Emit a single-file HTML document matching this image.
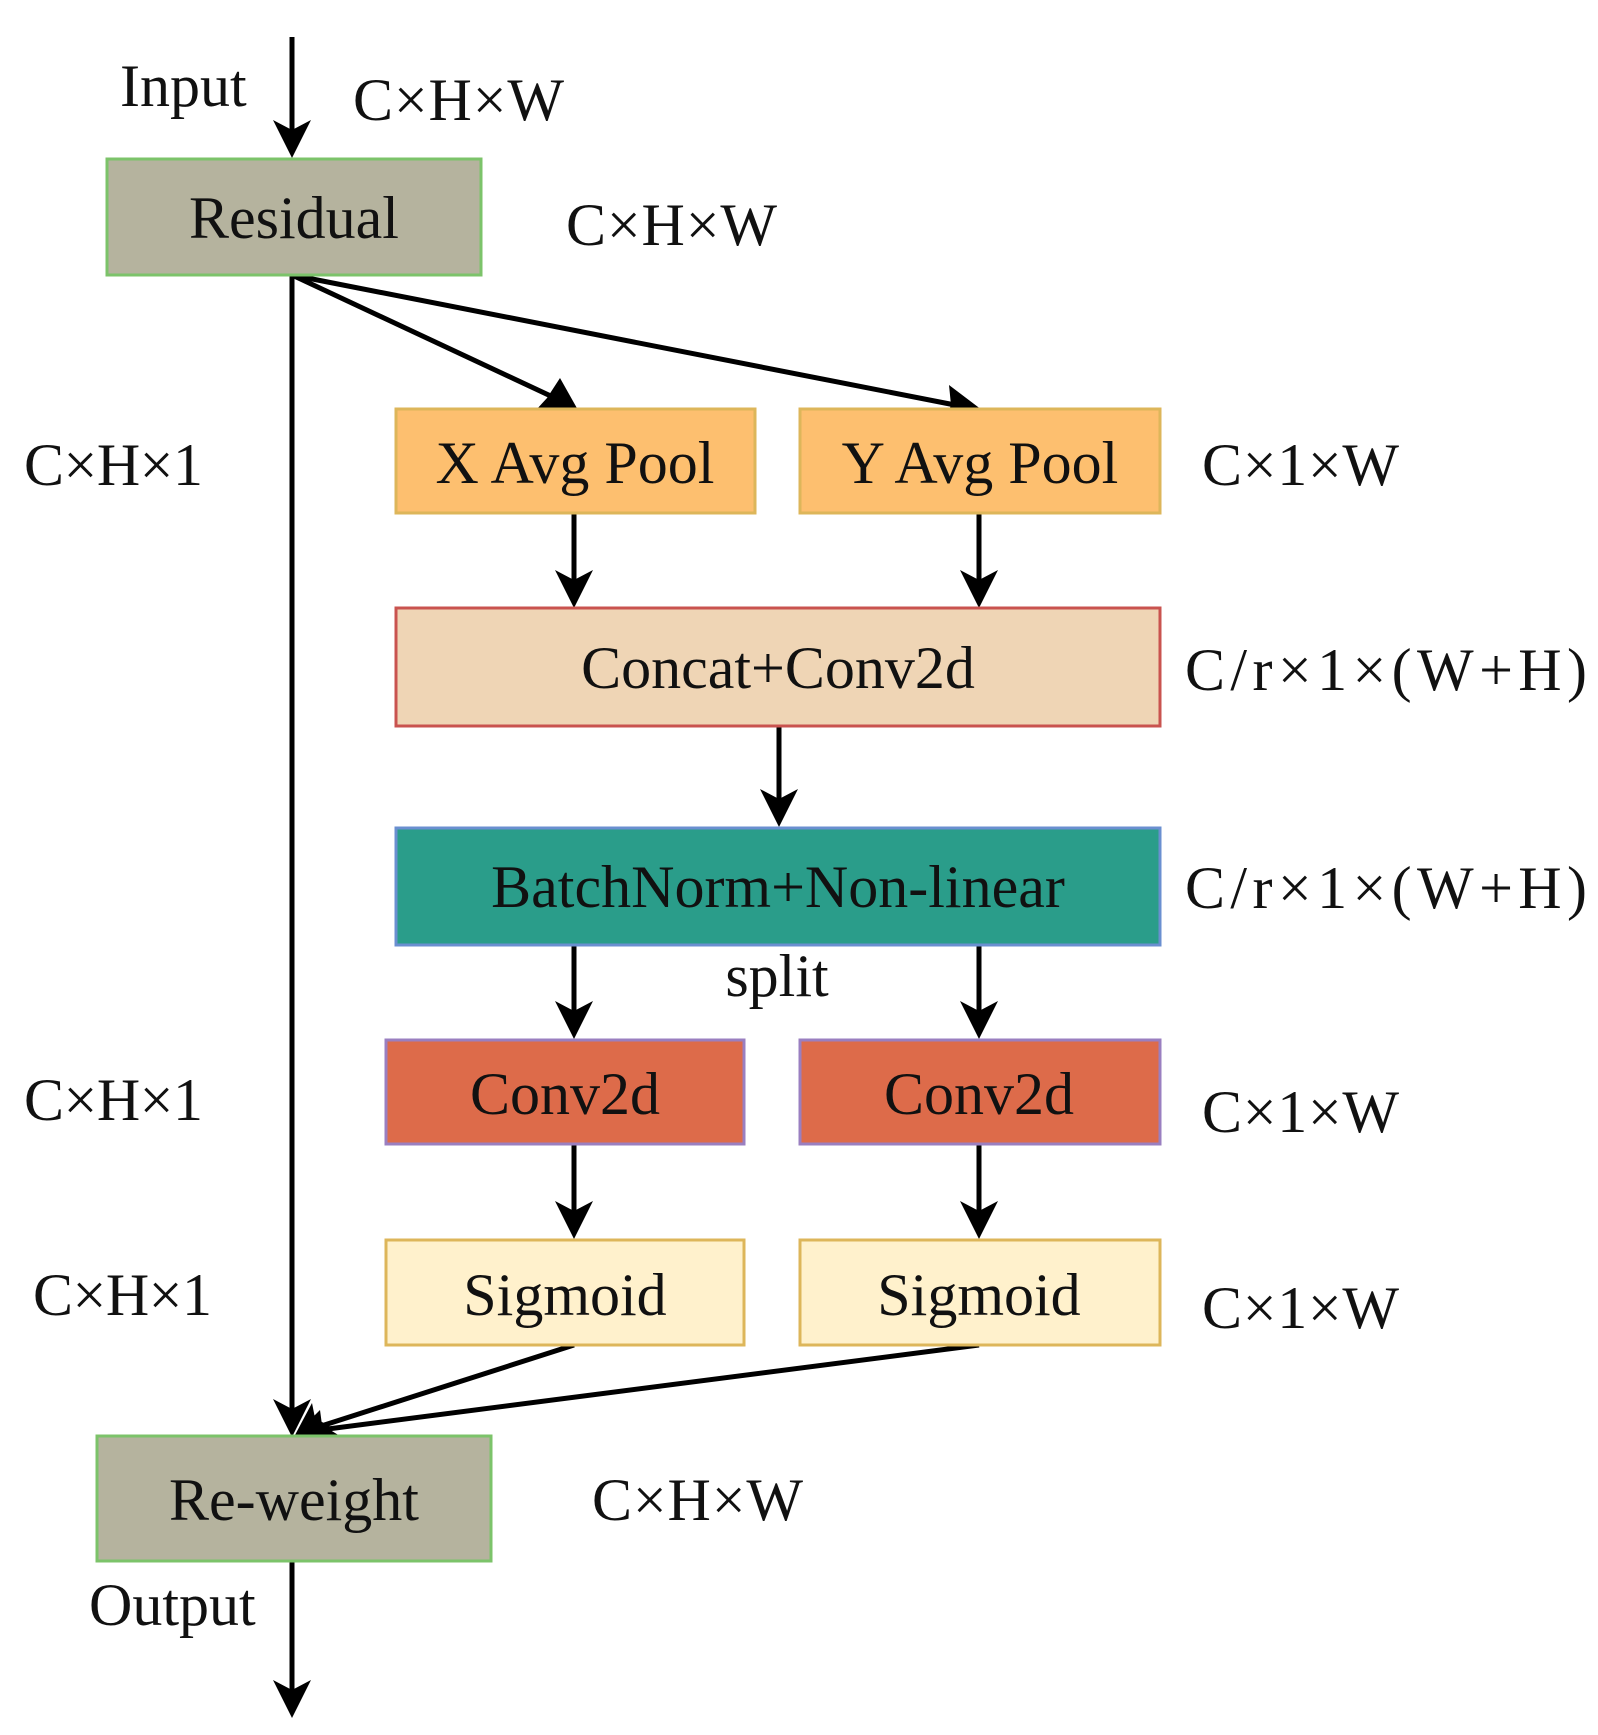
<!DOCTYPE html>
<html><head><meta charset="utf-8"><style>html,body{margin:0;padding:0;background:#fff}svg{display:block}</style></head>
<body>
<svg width="1598" height="1735" viewBox="0 0 1598 1735" xmlns="http://www.w3.org/2000/svg" font-family="Liberation Serif, serif" font-size="60">
<g fill="none" stroke="#000" stroke-width="5">
<line x1="292" y1="37" x2="292" y2="140"/>
<line x1="292" y1="275" x2="292" y2="1410"/>
<line x1="292" y1="1561" x2="292" y2="1690"/>
<line x1="292" y1="275" x2="555" y2="398"/>
<line x1="292" y1="275" x2="955" y2="405"/>
<line x1="574" y1="514" x2="574" y2="580"/>
<line x1="979" y1="514" x2="979" y2="580"/>
<line x1="779" y1="726" x2="779" y2="800"/>
<line x1="574" y1="945" x2="574" y2="1012"/>
<line x1="979" y1="945" x2="979" y2="1012"/>
<line x1="574" y1="1144" x2="574" y2="1212"/>
<line x1="979" y1="1144" x2="979" y2="1212"/>
<line x1="574" y1="1345" x2="315" y2="1428"/>
<line x1="979" y1="1345" x2="320" y2="1430"/>
</g>
<g fill="#000">
<polygon points="292,158 273,120 292,130 311,120"/>
<polygon points="292,1437 273,1399 292,1409 311,1399"/>
<polygon points="292,1718 273,1680 292,1690 311,1680"/>
<polygon points="574,608 555,570 574,580 593,570"/>
<polygon points="979,608 960,570 979,580 998,570"/>
<polygon points="779,827 760,789 779,799 798,789"/>
<polygon points="574,1039 555,1001 574,1011 593,1001"/>
<polygon points="979,1039 960,1001 979,1011 998,1001"/>
<polygon points="574,1239 555,1201 574,1211 593,1201"/>
<polygon points="979,1239 960,1201 979,1211 998,1201"/>
<polygon points="578,410 536,410 547,398 560,378"/>
<polygon points="982,410 945,421 951,405 949,385"/>
<polygon points="295,1435 312,1403 315,1418 336,1430"/>
<polygon points="295,1435 320,1410 322,1425 340,1436"/>
</g>
<g stroke-width="3">
<rect x="107" y="159" width="374" height="116" fill="#b5b39e" stroke="#7cc36a"/>
<rect x="396" y="409" width="359" height="104" fill="#fdbf6f" stroke="#ddb65a"/>
<rect x="800" y="409" width="360" height="104" fill="#fdbf6f" stroke="#ddb65a"/>
<rect x="396" y="608" width="764" height="118" fill="#efd5b5" stroke="#c9534f"/>
<rect x="396" y="828" width="764" height="117" fill="#2a9d8a" stroke="#6a8fd0"/>
<rect x="386" y="1040" width="358" height="104" fill="#dd6b4a" stroke="#9a7fc0"/>
<rect x="800" y="1040" width="360" height="104" fill="#dd6b4a" stroke="#9a7fc0"/>
<rect x="386" y="1240" width="358" height="105" fill="#fff1cc" stroke="#ddb65a"/>
<rect x="800" y="1240" width="360" height="105" fill="#fff1cc" stroke="#ddb65a"/>
<rect x="97" y="1436" width="394" height="125" fill="#b5b39e" stroke="#7cc36a"/>
</g>
<g fill="#111" text-anchor="middle">
<text x="294" y="238">Residual</text>
<text x="575" y="483">X Avg Pool</text>
<text x="980" y="483">Y Avg Pool</text>
<text x="778" y="688">Concat+Conv2d</text>
<text x="778" y="907">BatchNorm+Non-linear</text>
<text x="565" y="1114">Conv2d</text>
<text x="979" y="1114">Conv2d</text>
<text x="565" y="1315">Sigmoid</text>
<text x="979" y="1315">Sigmoid</text>
<text x="294" y="1520">Re-weight</text>
<text x="777" y="996">split</text>
</g>
<g fill="#111">
<text x="120" y="106">Input</text>
<text x="353" y="120" textLength="211">C×H×W</text>
<text x="566" y="245" textLength="211">C×H×W</text>
<text x="24" y="485" textLength="179">C×H×1</text>
<text x="1202" y="485" textLength="197">C×1×W</text>
<text x="1185" y="690" textLength="402">C/r×1×(W+H)</text>
<text x="1185" y="908" textLength="402">C/r×1×(W+H)</text>
<text x="24" y="1120" textLength="179">C×H×1</text>
<text x="1202" y="1132" textLength="197">C×1×W</text>
<text x="33" y="1315" textLength="179">C×H×1</text>
<text x="1202" y="1328" textLength="197">C×1×W</text>
<text x="592" y="1520" textLength="211">C×H×W</text>
<text x="89" y="1625">Output</text>
</g>
</svg>
</body></html>
